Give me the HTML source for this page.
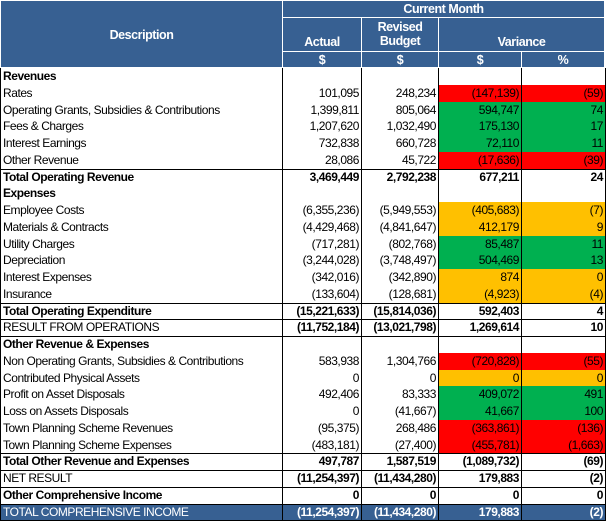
<!DOCTYPE html>
<html><head><meta charset="utf-8"><style>
body{margin:0;width:606px;height:521px;background:#fff;overflow:hidden;font-family:"Liberation Sans",Arial,sans-serif;}
#t{position:absolute;left:0;top:0;width:606px;height:521px;}
.c{position:absolute;box-sizing:border-box;font-size:12px;letter-spacing:-0.45px;line-height:16px;white-space:nowrap;overflow:hidden;color:#000;}
.h{background:#376092;color:#fff;font-weight:bold;text-align:center;border:1px solid #fff;font-size:12.5px;}
.r{text-align:right;padding-right:2px;}
.l{padding-left:3px;}
.b{font-weight:bold;}
.vl{position:absolute;width:1px;background:#000;}
.hl{position:absolute;height:1px;background:#000;left:1px;width:604px;}
</style></head><body>
<div id="t">
<div class="c h" style="left:0;top:0;width:283px;height:68px;line-height:68px;">Description</div>
<div class="c h" style="left:282px;top:0;width:323px;height:18px;line-height:16px;">Current Month</div>
<div class="c h" style="left:282px;top:17px;width:80px;height:35px;line-height:14px;padding-top:17px;">Actual</div>
<div class="c h" style="left:361px;top:17px;width:78px;height:35px;line-height:14px;padding-top:2px;">Revised<br>Budget</div>
<div class="c h" style="left:438px;top:17px;width:167px;height:35px;line-height:14px;padding-top:17px;">Variance</div>
<div class="c h" style="left:282px;top:51px;width:80px;height:17px;">$</div>
<div class="c h" style="left:361px;top:51px;width:78px;height:17px;">$</div>
<div class="c h" style="left:438px;top:51px;width:84px;height:17px;">$</div>
<div class="c h" style="left:521px;top:51px;width:84px;height:17px;">%</div>
</div>
<script>
const labels=["Revenues","Rates","Operating Grants, Subsidies & Contributions","Fees & Charges","Interest Earnings","Other Revenue","Total Operating Revenue","Expenses","Employee Costs","Materials & Contracts","Utility Charges","Depreciation","Interest Expenses","Insurance","Total Operating Expenditure","RESULT FROM OPERATIONS","Other Revenue & Expenses","Non Operating Grants, Subsidies & Contributions","Contributed Physical Assets","Profit on Asset Disposals","Loss on Assets Disposals","Town Planning Scheme Revenues","Town Planning Scheme Expenses","Total Other Revenue and Expenses","NET RESULT","Other Comprehensive Income","TOTAL COMPREHENSIVE INCOME"];
const actual=["","101,095","1,399,811","1,207,620","732,838","28,086","3,469,449","","(6,355,236)","(4,429,468)","(717,281)","(3,244,028)","(342,016)","(133,604)","(15,221,633)","(11,752,184)","","583,938","0","492,406","0","(95,375)","(483,181)","497,787","(11,254,397)","0","(11,254,397)"];
const budget=["","248,234","805,064","1,032,490","660,728","45,722","2,792,238","","(5,949,553)","(4,841,647)","(802,768)","(3,748,497)","(342,890)","(128,681)","(15,814,036)","(13,021,798)","","1,304,766","0","83,333","(41,667)","268,486","(27,400)","1,587,519","(11,434,280)","0","(11,434,280)"];
const variance=["","(147,139)","594,747","175,130","72,110","(17,636)","677,211","","(405,683)","412,179","85,487","504,469","874","(4,923)","592,403","1,269,614","","(720,828)","0","409,072","41,667","(363,861)","(455,781)","(1,089,732)","179,883","0","179,883"];
const pct=["","(59)","74","17","11","(39)","24","","(7)","9","11","13","0","(4)","4","10","","(55)","0","491","100","(136)","(1,663)","(69)","(2)","0","(2)"];
const status=["","r","g","g","g","r","","","o","o","g","g","o","o","","","","r","o","g","g","r","r","","","",""];
const bold=[1,0,0,0,0,0,1,1,0,0,0,0,0,0,1,0,1,0,0,0,0,0,0,1,0,1,0];
const topLine=[0,0,0,0,0,0,1,0,0,0,0,0,0,0,1,1,1,0,0,0,0,0,0,1,1,1,1];
const colors={r:"#ff0000",g:"#00b050",o:"#ffc000"};
const t=document.getElementById('t');
const colX=[0,282,361,438,521,605];
const y0=68,rh=16.75;
function cell(x,y,w,txt,cls,name){const d=document.createElement('div');d.className='c '+cls;d.style.left=x+'px';d.style.top=y+'px';d.style.width=w+'px';d.style.height=Math.ceil(rh)+'px';d.textContent=txt;


t.appendChild(d);return d;}
labels.forEach((lab,i)=>{
 const y=y0+i*rh;const last=i===labels.length-1;
 const b=bold[i]?' b':'';
 if(last){const bg=document.createElement('div');bg.style.cssText=`position:absolute;left:0;top:${y}px;width:606px;height:${521-y}px;background:#376092;`;
 
 
 t.appendChild(bg);}
 if(status[i]){[3,4].forEach(k=>{const s=document.createElement('div');s.style.cssText=`position:absolute;left:${colX[k]+1}px;top:${y}px;width:${colX[k+1]-colX[k]-1}px;height:${rh+0.5}px;background:${colors[status[i]]};`;
 
 
 t.appendChild(s);});}
 const col=last?';color:#fff':'';
 cell(0,y,282,lab,'l'+b,'row-label').style.cssText+=col;
 const vals=[actual[i],budget[i],variance[i],pct[i]];
 const bb=(i>=6&&(bold[i]||topLine[i]))||last?' b':'';
 vals.forEach((v,k)=>{cell(colX[k+1],y,colX[k+2]-colX[k+1],v,'r'+bb,['actual-value','budget-value','variance-value','percent-value'][k]).style.cssText+=col;});
 if(topLine[i]){const h=document.createElement('div');h.className='hl';h.style.top=Math.round(y)+'px';
 
 
 t.appendChild(h);}
});
colX.forEach((x,k)=>{const v=document.createElement('div');v.className='vl';v.style.left=(k===0?0:x)+'px';v.style.top='68px';v.style.height='453px';


t.appendChild(v);});
const bt=document.createElement('div');bt.className='hl';bt.style.top='520px';bt.style.left='0';bt.style.width='606px';


t.appendChild(bt);
</script>
</body></html>
